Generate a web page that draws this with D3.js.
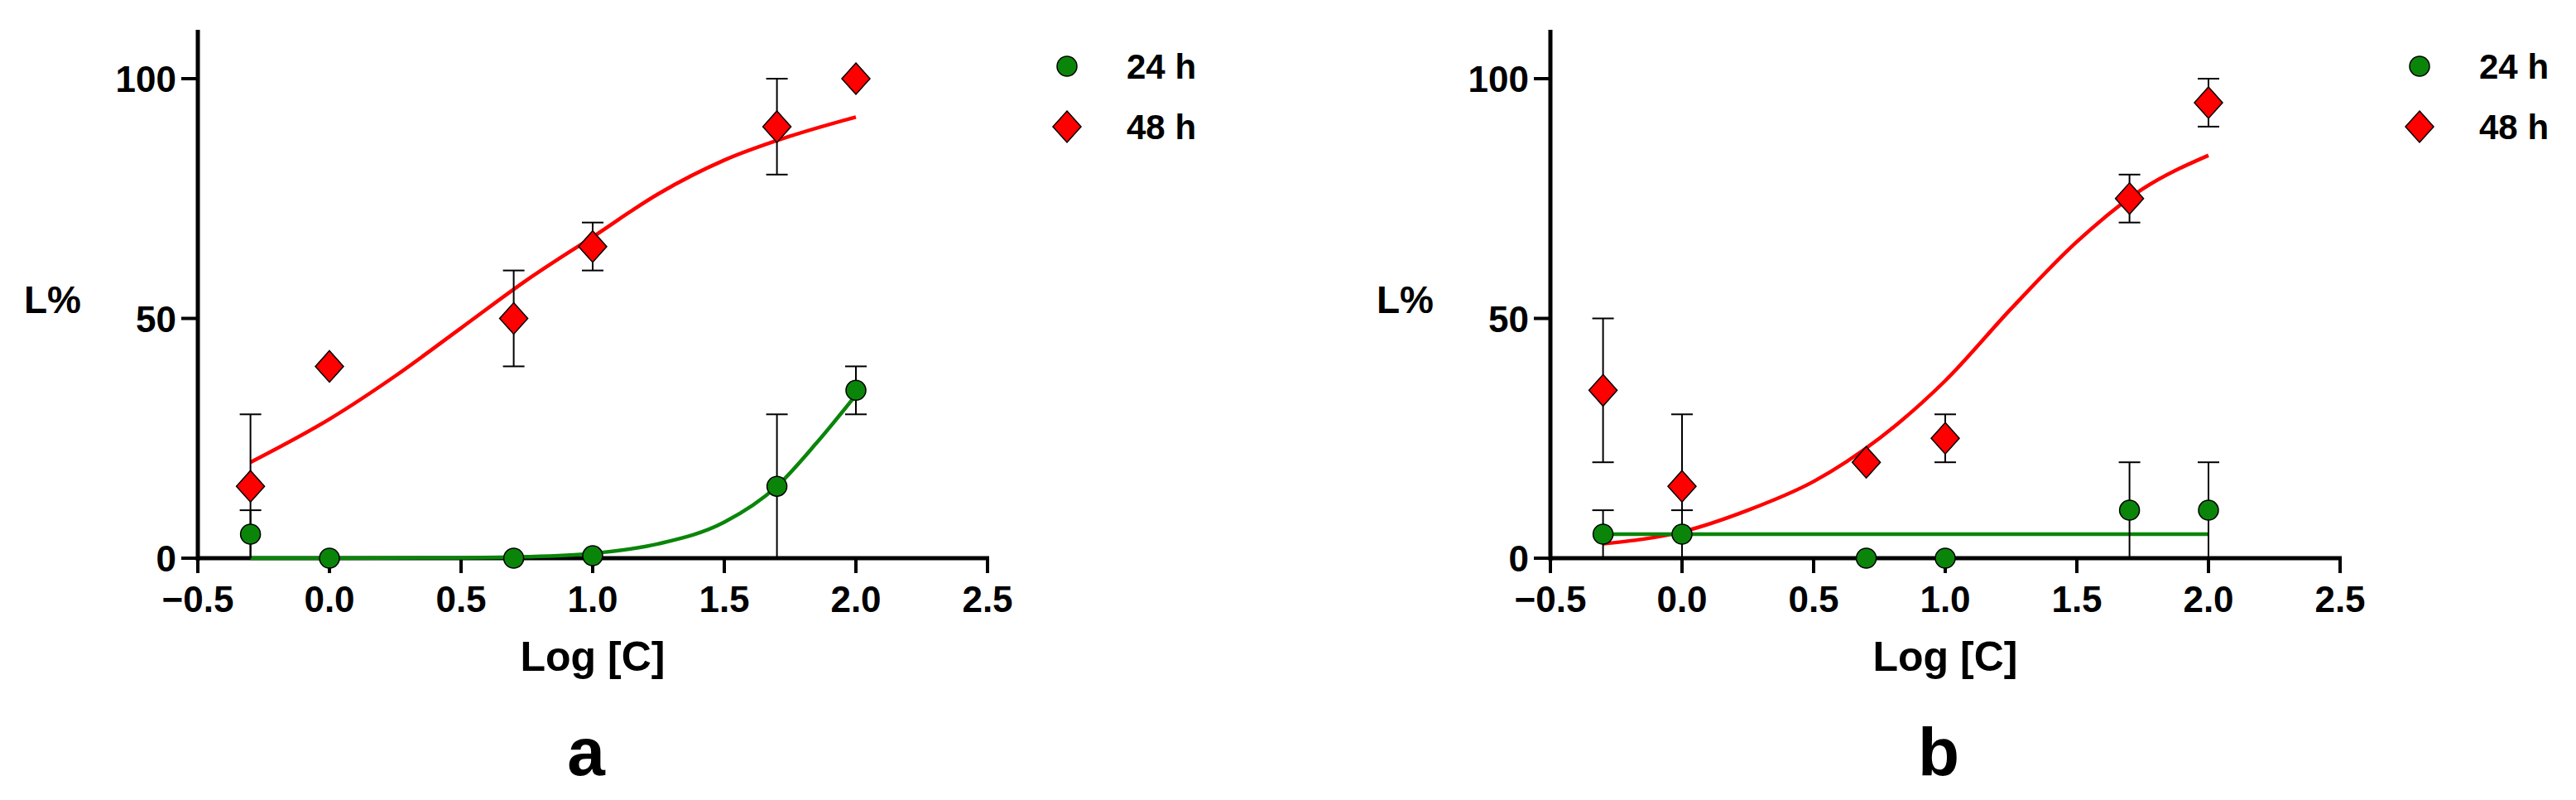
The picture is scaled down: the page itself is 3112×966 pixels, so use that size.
<!DOCTYPE html>
<html>
<meta charset="utf-8">
<style>
body { margin: 0; background: #fff; }
text { font-family: "Liberation Sans Narrow", "Liberation Sans", Arial, sans-serif; font-weight: bold; }
</style>
<body>
<script src="https://d3js.org/d3.v7.min.js"></script>
<script>
// measured points: x = log concentration, y = L%, lo/hi = error bar ends
var a24 = [
  {x: -0.3, y: 5, lo: 0, hi: 10}, {x: 0, y: 0}, {x: 0.7, y: 0}, {x: 1, y: 0.5},
  {x: 1.7, y: 15, lo: 0, hi: 30}, {x: 2, y: 35, lo: 30, hi: 40}
];
var a48 = [
  {x: -0.3, y: 15, lo: 0, hi: 30}, {x: 0, y: 40}, {x: 0.7, y: 50, lo: 40, hi: 60},
  {x: 1, y: 65, lo: 60, hi: 70}, {x: 1.7, y: 90, lo: 80, hi: 100}, {x: 2, y: 100}
];
var b24 = [
  {x: -0.3, y: 5, lo: 0, hi: 10}, {x: 0, y: 5, lo: 0, hi: 10}, {x: 0.7, y: 0}, {x: 1, y: 0},
  {x: 1.7, y: 10, lo: 0, hi: 20}, {x: 2, y: 10, lo: 0, hi: 20}
];
var b48 = [
  {x: -0.3, y: 35, lo: 20, hi: 50}, {x: 0, y: 15, lo: 0, hi: 30}, {x: 0.7, y: 20},
  {x: 1, y: 25, lo: 20, hi: 30}, {x: 1.7, y: 75, lo: 70, hi: 80}, {x: 2, y: 95, lo: 90, hi: 100}
];
// fitted curves
var aFit24 = [[-0.3,0],[0,0],[0.5,0.1],[0.75,0.3],[1,1],[1.25,3],[1.5,7.5],[1.7,15],[1.85,24],[2,34]];
var aFit48 = [[-0.3,20],[0,29],[0.25,38],[0.5,48],[0.75,58],[1,67],[1.25,76],[1.5,83],[1.75,88],[2,92]];
var bFit24 = [[-0.3,5],[2,5]];
var bFit48 = [[-0.3,3],[0,5.5],[0.25,10],[0.5,16],[0.75,25],[1,37],[1.25,52],[1.5,66],[1.75,77],[2,84]];
var xTicks = [-0.5, 0, 0.5, 1, 1.5, 2, 2.5];
var yTicks = [0, 50, 100];
var seriesNames = ["24 h", "48 h"];

var GREEN = "#0a850a", RED = "#ff0000";
var DIAMOND = "M0,-19L17,0L0,19L-17,0Z";

var svg = d3.select("body").append("svg").attr("width", 3112).attr("height", 966);

function panel(left, letter, d24, d48, f24, f48) {
  var x = d3.scaleLinear().domain([-0.5, 2.5]).range([left, left + 954]);
  var y = d3.scaleLinear().domain([0, 100]).range([674, 95]);
  var g = svg.append("g");

  // axes
  g.append("line").attr("x1", x(-0.5)).attr("x2", x(-0.5)).attr("y1", 36).attr("y2", y(0) + 3)
    .attr("stroke", "#000").attr("stroke-width", 5);
  g.append("line").attr("x1", x(-0.5) - 2).attr("x2", x(2.5) + 2).attr("y1", y(0)).attr("y2", y(0))
    .attr("stroke", "#000").attr("stroke-width", 5);
  xTicks.forEach(function (t) {
    g.append("line").attr("x1", x(t)).attr("x2", x(t)).attr("y1", y(0)).attr("y2", y(0) + 18)
      .attr("stroke", "#000").attr("stroke-width", 4);
    g.append("text").attr("x", x(t)).attr("y", 739).attr("text-anchor", "middle")
      .attr("font-size", 44).text(d3.format(".1f")(t));
  });
  yTicks.forEach(function (t) {
    g.append("line").attr("x1", x(-0.5) - 20).attr("x2", x(-0.5)).attr("y1", y(t)).attr("y2", y(t))
      .attr("stroke", "#000").attr("stroke-width", 4);
    g.append("text").attr("x", x(-0.5) - 26).attr("y", y(t) + 16).attr("text-anchor", "end")
      .attr("font-size", 44).text(t);
  });
  g.append("text").attr("x", left - 210).attr("y", 378).attr("font-size", 46).text("L%");
  g.append("text").attr("x", x(1)).attr("y", 810).attr("text-anchor", "middle").attr("font-size", 50).text("Log [C]");
  g.append("text").attr("x", x(1) - 8).attr("y", 936).attr("text-anchor", "middle").attr("font-size", 82)
    .attr("font-family", "Liberation Sans, Arial, sans-serif").text(letter);

  var line = d3.line().x(function (d) { return x(d[0]); }).y(function (d) { return y(d[1]); })
    .curve(d3.curveMonotoneX);
  g.append("path").attr("d", line(f48)).attr("fill", "none").attr("stroke", RED).attr("stroke-width", 4.5);
  g.append("path").attr("d", line(f24)).attr("fill", "none").attr("stroke", GREEN).attr("stroke-width", 4.5);

  function bars(data) {
    data.filter(function (d) { return d.hi !== undefined; }).forEach(function (d) {
      g.append("line").attr("x1", x(d.x)).attr("x2", x(d.x)).attr("y1", y(d.lo)).attr("y2", y(d.hi))
        .attr("stroke", "#000").attr("stroke-width", 2);
      [d.lo, d.hi].forEach(function (v) {
        if (v === 0) return;
        g.append("line").attr("x1", x(d.x) - 13).attr("x2", x(d.x) + 13).attr("y1", y(v)).attr("y2", y(v))
          .attr("stroke", "#000").attr("stroke-width", 2);
      });
    });
  }
  bars(d48); bars(d24);

  g.selectAll(".dia").data(d48).enter().append("path")
    .attr("transform", function (d) { return "translate(" + x(d.x) + "," + y(d.y) + ")"; })
    .attr("d", DIAMOND).attr("fill", RED).attr("stroke", "#000").attr("stroke-width", 1.5);
  g.selectAll(".dot").data(d24).enter().append("ellipse")
    .attr("cx", function (d) { return x(d.x); }).attr("cy", function (d) { return y(d.y); })
    .attr("rx", 12).attr("ry", 12).attr("fill", GREEN).attr("stroke", "#000").attr("stroke-width", 1.5);

  // legend
  var lx = left + 1050;
  g.append("ellipse").attr("cx", lx).attr("cy", 80).attr("rx", 12).attr("ry", 12)
    .attr("fill", GREEN).attr("stroke", "#000").attr("stroke-width", 1.5);
  g.append("path").attr("transform", "translate(" + lx + ",153)").attr("d", DIAMOND)
    .attr("fill", RED).attr("stroke", "#000").attr("stroke-width", 1.5);
  seriesNames.forEach(function (n, i) {
    g.append("text").attr("x", lx + 72).attr("y", 95 + i * 73).attr("font-size", 42)
      .attr("font-weight", "normal").text(n);
  });
}

panel(239, "a", a24, a48, aFit24, aFit48);
panel(1873, "b", b24, b48, bFit24, bFit48);
</script>
</body>
</html>
